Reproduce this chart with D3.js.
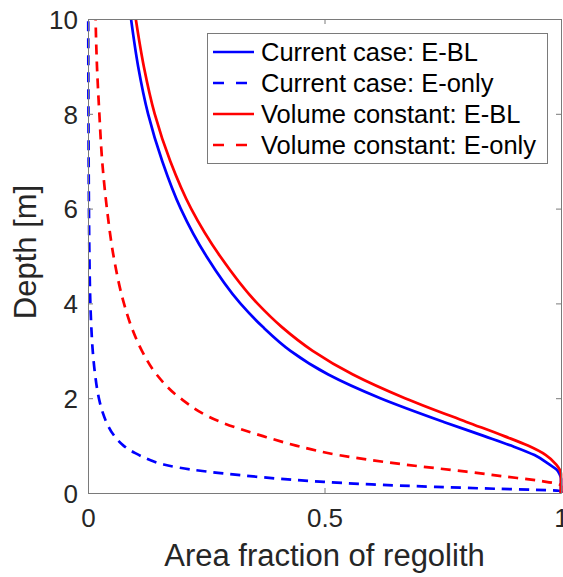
<!DOCTYPE html>
<html>
<head>
<meta charset="utf-8">
<script src="https://cdn.jsdelivr.net/npm/d3@7"></script>
<style>
  html, body { margin: 0; padding: 0; background: #fff; }
  svg { display: block; }
  text { font-family: "Liberation Sans", Arial, Helvetica, sans-serif; }
</style>
</head>
<body>
<svg id="chart" width="563" height="577"></svg>
<script>
// ---- data ----
const xTicks = [0, 0.5, 1];
const xTickLabels = ["0", "0.5", "1"];
const yTicks = [0, 2, 4, 6, 8, 10];
const yTickLabels = ["0", "2", "4", "6", "8", "10"];

const seriesNames = [
  "Current case: E-BL",
  "Current case: E-only",
  "Volume constant: E-BL",
  "Volume constant: E-only"
];

// depth [m] and area fraction
const currentEBL_depth = [10, 9, 8, 7, 6, 5, 4, 3.5, 3, 2.5, 2, 1.5, 1.2, 1.0, 0.8, 0.6, 0.5, 0.4, 0.3, 0];
const currentEBL_frac  = [0.091, 0.106, 0.127, 0.157, 0.196, 0.25, 0.322, 0.37, 0.428, 0.508, 0.618, 0.752, 0.838, 0.8945, 0.944, 0.976, 0.99, 0.997, 1, 1];

const currentEonly_depth = [10, 8, 6, 5, 4, 3.5, 3, 2.5, 2, 1.7, 1.47, 1.2, 1.0, 0.84, 0.7, 0.6, 0.5, 0.42, 0.34, 0.28, 0.24, 0.18, 0.13, 0.09, 0.06, 0.04, 0];
const currentEonly_frac  = [0.0005, 0.001, 0.002, 0.003, 0.005, 0.007, 0.01, 0.015, 0.023, 0.031, 0.04, 0.056, 0.075, 0.10, 0.13, 0.16, 0.215, 0.28, 0.36, 0.43, 0.49, 0.6, 0.735, 0.86, 0.97, 1, 1];

const volumeEBL_depth = [10, 9, 8, 7, 6, 5, 4, 3.5, 3, 2.5, 2, 1.5, 1.2, 1.0, 0.8, 0.6, 0.5, 0.4, 0];
const volumeEBL_frac  = [0.101, 0.118, 0.141, 0.174, 0.218, 0.279, 0.358, 0.41, 0.475, 0.56, 0.67, 0.80, 0.88, 0.93, 0.968, 0.99, 0.997, 1, 1];

const volumeEonly_depth = [10, 9, 8, 7, 6, 5, 4, 3.5, 3, 2.5, 2, 1.5, 1.2, 1.0, 0.8, 0.6, 0.45, 0.35, 0.25, 0.2, 0.15, 0];
const volumeEonly_frac  = [0.016, 0.019, 0.024, 0.030, 0.040, 0.054, 0.076, 0.092, 0.114, 0.145, 0.195, 0.28, 0.37, 0.44, 0.53, 0.67, 0.80, 0.88, 0.96, 0.99, 1, 1];

// ---- layout ----
const svg = d3.select("#chart");
const L = 88, R = 561, T = 19, B = 493;
const x = d3.scaleLinear().domain([0, 1]).range([L, R]);
const y = d3.scaleLinear().domain([0, 10]).range([B, T]);

const axisColor = "#7a7a7a";
const textColor = "#262626";

const series = [
  { name: seriesNames[0], depth: currentEBL_depth, frac: currentEBL_frac, color: "#0000ff", dash: null },
  { name: seriesNames[1], depth: currentEonly_depth, frac: currentEonly_frac, color: "#0000ff", dash: "10,7" },
  { name: seriesNames[2], depth: volumeEBL_depth, frac: volumeEBL_frac, color: "#ff0000", dash: null },
  { name: seriesNames[3], depth: volumeEonly_depth, frac: volumeEonly_frac, color: "#ff0000", dash: "10,7" }
];

svg.append("defs").append("clipPath").attr("id", "clip")
  .append("rect").attr("x", L - 2).attr("y", T).attr("width", R - L + 4).attr("height", B - T);

// curves
const line = d3.line()
  .x(d => x(d[1]))
  .y(d => y(d[0]))
  .curve(d3.curveMonotoneY);

const g = svg.append("g").attr("clip-path", "url(#clip)");
series.forEach(s => {
  const pts = s.depth.map((d, i) => [d, s.frac[i]]).sort((a, b) => a[0] - b[0]);
  g.append("path")
    .attr("d", line(pts))
    .attr("fill", "none")
    .attr("stroke", s.color)
    .attr("stroke-width", 2.7)
    .attr("stroke-dasharray", s.dash);
});

// axes (box with inward ticks)
const tickLen = 5;
const axB = svg.append("g").attr("transform", `translate(0,${B})`)
  .call(d3.axisBottom(x).tickValues(xTicks).tickFormat((d, i) => xTickLabels[i]).tickSizeInner(-tickLen).tickSizeOuter(0).tickPadding(16));
const axT = svg.append("g").attr("transform", `translate(0,${T})`)
  .call(d3.axisTop(x).tickValues(xTicks).tickFormat("").tickSizeInner(-tickLen).tickSizeOuter(0));
const axL = svg.append("g").attr("transform", `translate(${L},0)`)
  .call(d3.axisLeft(y).tickValues(yTicks).tickFormat((d, i) => yTickLabels[i]).tickSizeInner(-tickLen).tickSizeOuter(0).tickPadding(10));
const axR = svg.append("g").attr("transform", `translate(${R},0)`)
  .call(d3.axisRight(y).tickValues(yTicks).tickFormat("").tickSizeInner(-tickLen).tickSizeOuter(0));

[axB, axT, axL, axR].forEach(a => {
  a.select(".domain").attr("stroke", axisColor).attr("stroke-width", 1);
  a.selectAll(".tick line").attr("stroke", axisColor).attr("stroke-width", 1);
  a.selectAll(".tick text").attr("fill", textColor).style("font-size", "26px")
    .style("font-family", "'Liberation Sans', Arial, Helvetica, sans-serif");
});
axB.selectAll(".tick text").attr("dy", "0.71em");
axL.selectAll(".tick text").attr("dy", "0.36em");

// axis titles
svg.append("text")
  .attr("x", (L + R) / 2).attr("y", 566)
  .attr("text-anchor", "middle")
  .attr("fill", textColor)
  .style("font-size", "31px")
  .text("Area fraction of regolith");

svg.append("text")
  .attr("transform", `translate(36,252) rotate(-90)`)
  .attr("text-anchor", "middle")
  .attr("fill", textColor)
  .style("font-size", "31px")
  .text("Depth [m]");

// legend
const lg = svg.append("g");
lg.append("rect")
  .attr("x", 207.5).attr("y", 33.5).attr("width", 340).attr("height", 130)
  .attr("fill", "#fff").attr("stroke", axisColor).attr("stroke-width", 1);
const rowY = [52, 83, 114, 145];
series.forEach((s, i) => {
  lg.append("line")
    .attr("x1", 213).attr("x2", 254)
    .attr("y1", rowY[i]).attr("y2", rowY[i])
    .attr("stroke", s.color).attr("stroke-width", 2.7)
    .attr("stroke-dasharray", s.dash ? "11,12" : null);
  lg.append("text")
    .attr("x", 261).attr("y", rowY[i])
    .attr("dy", "0.36em")
    .attr("fill", "#000")
    .style("font-size", "25.5px")
    .text(s.name);
});
</script>
</body>
</html>
